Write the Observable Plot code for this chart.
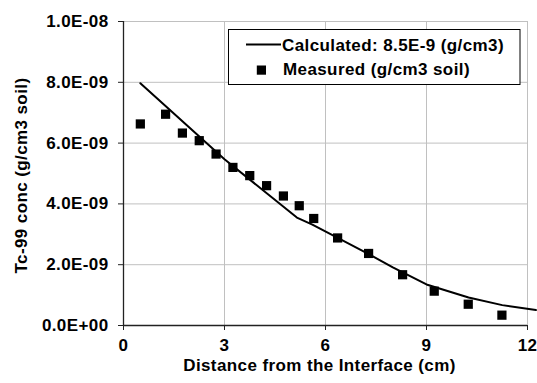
<!DOCTYPE html>
<html>
<head>
<meta charset="utf-8">
<script src="https://cdn.jsdelivr.net/npm/d3@7"></script>
<script src="https://cdn.jsdelivr.net/npm/@observablehq/plot@0.6"></script>
<style>
  html, body { margin: 0; padding: 0; background: #fff; }
  #chart { position: relative; width: 537px; height: 383px; }
  #chart svg text { letter-spacing: 0.4px; }
</style>
</head>
<body>
<div id="chart"></div>
<script>
// Measured data (distance cm, concentration g/cm3 soil)
const measuredX = [0.5, 1.25, 1.75, 2.25, 2.75, 3.25, 3.75, 4.25, 4.75, 5.22, 5.65, 6.36, 7.28, 8.29, 9.23, 10.24, 11.24];
const measuredY = [6.63e-9, 6.95e-9, 6.33e-9, 6.08e-9, 5.64e-9, 5.20e-9, 4.93e-9, 4.60e-9, 4.26e-9, 3.94e-9, 3.52e-9, 2.88e-9, 2.37e-9, 1.67e-9, 1.13e-9, 0.70e-9, 0.34e-9];

// Calculated curve
const calcX = [0.5, 3.0, 5.15, 5.61, 6.25, 7.2, 8.0, 9.0, 10.25, 11.25, 12.25];
const calcY = [7.97e-9, 5.47e-9, 3.55e-9, 3.32e-9, 2.95e-9, 2.40e-9, 1.91e-9, 1.35e-9, 0.92e-9, 0.67e-9, 0.51e-9];

// Ticks
const xTicks = [0, 3, 6, 9, 12];
const xTickLabels = ["0", "3", "6", "9", "12"];
const yTicks = [0, 2e-9, 4e-9, 6e-9, 8e-9, 1e-8];
const yTickLabels = ["0.0E+00", "2.0E-09", "4.0E-09", "6.0E-09", "8.0E-09", "1.0E-08"];

const xLabel = "Distance from the Interface (cm)";
const yLabel = "Tc-99 conc (g/cm3 soil)";
const legendCalc = "Calculated: 8.5E-9 (g/cm3)";
const legendMeas = "Measured (g/cm3 soil)";

const measured = measuredX.map((x, i) => ({x, y: measuredY[i]}));
const calc = calcX.map((x, i) => ({x, y: calcY[i]}));

const FONT = "'Liberation Sans', Arial, sans-serif";

const plot = Plot.plot({
  width: 537,
  height: 383,
  marginLeft: 123,
  marginRight: 10,
  marginTop: 21,
  marginBottom: 58,
  style: {fontFamily: FONT, fontWeight: "bold", fontSize: "17px", color: "#000", background: "#fff", overflow: "visible"},
  x: {domain: [0, 12]},
  y: {domain: [0, 1e-8]},
  marks: [
    Plot.gridX(xTicks.slice(1), {stroke: "#c0c0c0", strokeOpacity: 1, strokeWidth: 1}),
    Plot.gridY(yTicks.slice(1), {stroke: "#c0c0c0", strokeOpacity: 1, strokeWidth: 1}),
    Plot.ruleX([0], {stroke: "#222", strokeWidth: 1.3}),
    Plot.ruleY([0], {stroke: "#222", strokeWidth: 1.3}),
    Plot.axisX({ticks: xTicks, tickFormat: d => xTickLabels[xTicks.indexOf(d)], tickSize: 5, tickPadding: 8, label: null, fontSize: 17, stroke: "#222"}),
    Plot.axisY({ticks: yTicks, tickFormat: d => yTickLabels[yTicks.indexOf(d)], tickSize: 5, tickPadding: 10, label: null, fontSize: 17, stroke: "#222"}),
    Plot.text([xLabel], {frameAnchor: "bottom", dx: -6, dy: 40, lineAnchor: "middle", textAnchor: "middle", fontSize: 17, fontWeight: "bold", text: d => d}),
    Plot.text([yLabel], {frameAnchor: "left", rotate: -90, dx: -102, dy: 2, lineAnchor: "middle", textAnchor: "middle", fontSize: 17, fontWeight: "bold", text: d => d}),
    Plot.line(calc, {x: "x", y: "y", stroke: "#000", strokeWidth: 2}),
    Plot.dot(measured, {x: "x", y: "y", symbol: "square", r: 5.2, fill: "#000", stroke: "none"})
  ]
});

document.getElementById("chart").appendChild(plot);

// Legend
const svg = d3.select(plot);
const lg = svg.append("g").attr("font-family", FONT).attr("font-weight", "bold").attr("font-size", 17).attr("text-anchor", "start");
lg.append("rect").attr("x", 228.5).attr("y", 29.5).attr("width", 291.5).attr("height", 55)
  .attr("fill", "#fff").attr("stroke", "#000").attr("stroke-width", 1);
lg.append("line").attr("x1", 246).attr("x2", 281).attr("y1", 44.5).attr("y2", 44.5)
  .attr("stroke", "#000").attr("stroke-width", 2);
lg.append("text").attr("x", 282).attr("y", 45).attr("dy", "0.35em").text(legendCalc);
lg.append("rect").attr("x", 256.8).attr("y", 65.5).attr("width", 9.2).attr("height", 9.2).attr("fill", "#000");
lg.append("text").attr("x", 283).attr("y", 69.5).attr("dy", "0.35em").text(legendMeas);
</script>
</body>
</html>
